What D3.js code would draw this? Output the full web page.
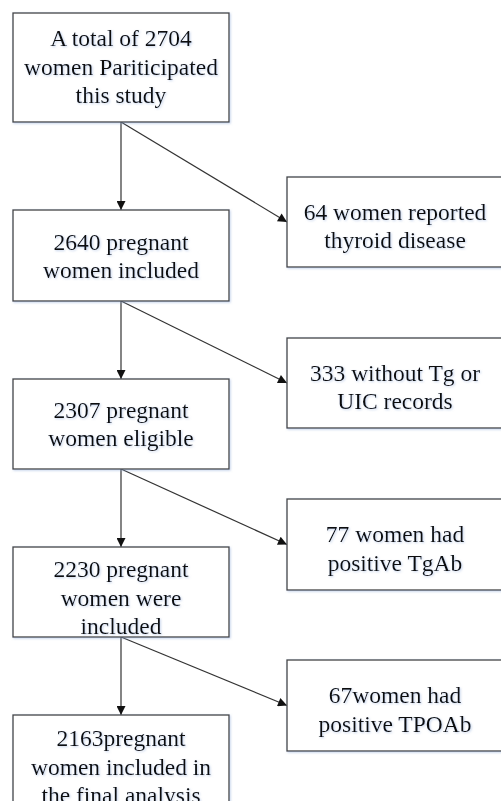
<!DOCTYPE html>
<html>
<head>
<meta charset="utf-8">
<script src="https://cdn.jsdelivr.net/npm/d3@7"></script>
<style>
  body { margin: 0; background: #fff; }
  text { font-family: "Liberation Serif", "Times New Roman", serif; fill: #111; }
</style>
</head>
<body>
<div id="chart"></div>
<script>
// flowchart content
const mainSteps = [
  ["A total of 2704", "women Pariticipated", "this study"],
  ["2640 pregnant", "women included"],
  ["2307 pregnant", "women eligible"],
  ["2230 pregnant", "women were", "included"],
  ["2163pregnant", "women included in", "the final analysis"]
];
const exclusions = [
  ["64 women reported", "thyroid disease"],
  ["333 without Tg or", "UIC records"],
  ["77 women had", "positive TgAb"],
  ["67women had", "positive TPOAb"]
];

const svgWidth = 501;
const svgHeight = 801;

// layout of the boxes (top / bottom edges)
const mainTop = [13, 210, 379, 547, 715];
const mainBottom = [122, 301, 469, 637, 830];
const exclTop = [177, 338, 499, 660];
const exclBottom = [267, 428, 590, 751];

const boxW = 216;
const leftX = 13;
const rightX = 287;
const fontSize = 23.5;
const lineH = 28.5;

const svg = d3.select("#chart")
  .append("svg")
  .attr("width", svgWidth)
  .attr("height", svgHeight);

const defs = svg.append("defs");
defs.append("marker")
  .attr("id", "arrow")
  .attr("viewBox", "0 0 10 10")
  .attr("refX", 10)
  .attr("refY", 5)
  .attr("markerWidth", 13)
  .attr("markerHeight", 9)
  .attr("markerUnits", "userSpaceOnUse")
  .attr("orient", "auto")
  .append("path")
  .attr("d", "M0,0 L10,5 L0,10 Z")
  .attr("fill", "#111");

const shadow = defs.append("filter")
  .attr("id", "glow")
  .attr("x", "-10%").attr("y", "-20%")
  .attr("width", "120%").attr("height", "140%");
shadow.append("feDropShadow")
  .attr("dx", 1).attr("dy", 1)
  .attr("stdDeviation", 1.2)
  .attr("flood-color", "#8aa6d6")
  .attr("flood-opacity", 0.5);

function drawBox(x, y0, y1, lines, textCenter) {
  const g = svg.append("g");
  g.append("rect")
    .attr("x", x)
    .attr("y", y0)
    .attr("width", boxW)
    .attr("height", y1 - y0)
    .attr("fill", "#fff")
    .attr("stroke", "#444")
    .attr("stroke-width", 1.3)
    .attr("filter", "url(#glow)");
  const n = lines.length;
  g.selectAll("text")
    .data(lines)
    .enter()
    .append("text")
    .attr("x", x + boxW / 2)
    .attr("y", (d, i) => textCenter + (i - (n - 1) / 2) * lineH + fontSize * 0.33)
    .attr("text-anchor", "middle")
    .attr("font-size", fontSize + "px")
    .attr("filter", "url(#glow)")
    .text(d => d);
}

const cx = leftX + boxW / 2;

// arrows first so boxes sit on top
mainSteps.forEach((d, i) => {
  if (i < mainSteps.length - 1) {
    svg.append("line")
      .attr("x1", cx).attr("y1", mainBottom[i])
      .attr("x2", cx).attr("y2", mainTop[i + 1])
      .attr("stroke", "#333")
      .attr("stroke-width", 1.2)
      .attr("marker-end", "url(#arrow)");
    const ey = (exclTop[i] + exclBottom[i]) / 2;
    svg.append("line")
      .attr("x1", cx).attr("y1", mainBottom[i])
      .attr("x2", rightX).attr("y2", ey)
      .attr("stroke", "#333")
      .attr("stroke-width", 1.2)
      .attr("marker-end", "url(#arrow)");
  }
});

const mainCenters = [67, 256, 424, 598, 767];
mainSteps.forEach((lines, i) => {
  drawBox(leftX, mainTop[i], mainBottom[i], lines, mainCenters[i]);
});
exclusions.forEach((lines, i) => {
  drawBox(rightX, exclTop[i], exclBottom[i], lines, (exclTop[i] + exclBottom[i]) / 2 + 4);
});
</script>
</body>
</html>
